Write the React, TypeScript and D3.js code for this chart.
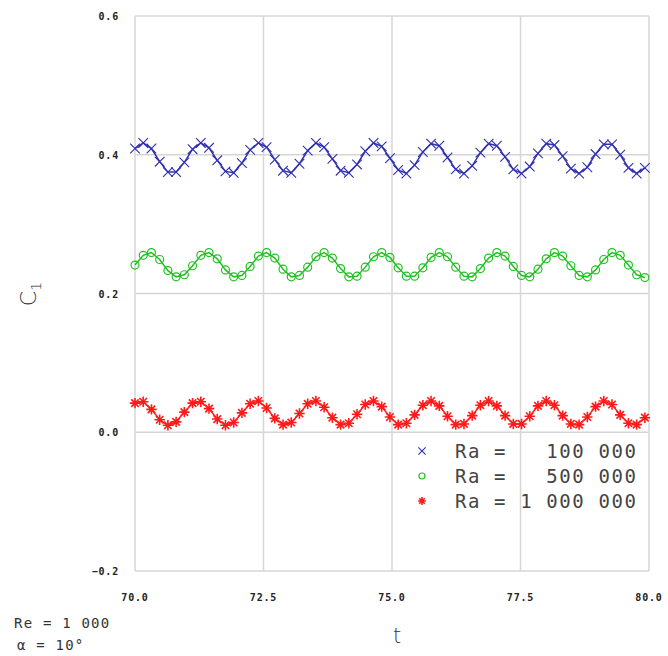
import React from "react";
import * as d3 from "d3";

const times: number[] = Array.from({ length: 63 }, (_, k) => +(70 + 0.16 * k).toFixed(2));

const ra100k: number[] = [
  0.409, 0.417, 0.409, 0.390, 0.375, 0.375, 0.389, 0.408, 0.417, 0.410,
  0.392, 0.376, 0.374, 0.388, 0.407, 0.417, 0.411, 0.393, 0.377, 0.374,
  0.387, 0.406, 0.417, 0.411, 0.394, 0.377, 0.374, 0.386, 0.405, 0.417,
  0.412, 0.395, 0.378, 0.373, 0.385, 0.404, 0.416, 0.413, 0.396, 0.379,
  0.373, 0.384, 0.403, 0.416, 0.413, 0.397, 0.379, 0.373, 0.383, 0.402,
  0.416, 0.414, 0.398, 0.380, 0.373, 0.382, 0.401, 0.415, 0.415, 0.400,
  0.381, 0.373, 0.381,
];

const ra500k: number[] = [
  0.241, 0.255, 0.259, 0.249, 0.233, 0.224, 0.227, 0.240, 0.255, 0.259,
  0.250, 0.234, 0.224, 0.226, 0.239, 0.254, 0.259, 0.251, 0.235, 0.224,
  0.226, 0.238, 0.253, 0.259, 0.251, 0.236, 0.224, 0.225, 0.238, 0.253,
  0.259, 0.252, 0.237, 0.225, 0.225, 0.237, 0.252, 0.259, 0.253, 0.238,
  0.225, 0.224, 0.236, 0.251, 0.259, 0.254, 0.239, 0.226, 0.224, 0.235,
  0.250, 0.259, 0.254, 0.240, 0.226, 0.224, 0.234, 0.249, 0.259, 0.255,
  0.241, 0.227, 0.223,
];

const ra1m: number[] = [
  0.042, 0.044, 0.033, 0.018, 0.010, 0.015, 0.029, 0.042, 0.044, 0.034,
  0.019, 0.010, 0.014, 0.028, 0.041, 0.045, 0.035, 0.020, 0.011, 0.014,
  0.027, 0.041, 0.045, 0.036, 0.021, 0.011, 0.013, 0.026, 0.040, 0.045,
  0.037, 0.022, 0.011, 0.013, 0.025, 0.039, 0.045, 0.038, 0.023, 0.011,
  0.012, 0.024, 0.039, 0.045, 0.038, 0.024, 0.012, 0.012, 0.023, 0.038,
  0.045, 0.039, 0.024, 0.012, 0.011, 0.022, 0.037, 0.045, 0.040, 0.025,
  0.013, 0.011, 0.021,
];

const xTicks: number[] = [70, 72.5, 75, 77.5, 80];
const yTicks: number[] = [-0.2, 0.0, 0.2, 0.4, 0.6];
const legendLabels: string[] = ["Ra =   100 000", "Ra =   500 000", "Ra = 1 000 000"];
const seriesColors: string[] = ["#3030b0", "#22c022", "#ff1a1a"];
const markerTypes: string[] = ["x", "o", "*"];

const W = 668;
const H = 656;
const M = { left: 135, right: 649, top: 16, bottom: 571 };

function Marker({ type, x, y, color, s = 1 }: { type: string; x: number; y: number; color: string; s?: number }) {
  if (type === "x") {
    const r = 4.8 * s;
    return (
      <path
        d={`M${x - r},${y - r}L${x + r},${y + r}M${x - r},${y + r}L${x + r},${y - r}`}
        stroke={color}
        strokeWidth={1.1}
        fill="none"
      />
    );
  }
  if (type === "o") {
    return <circle cx={x} cy={y} r={4 * s} stroke={color} strokeWidth={1.2} fill="none" />;
  }
  const r = 5.2 * s;
  const d2 = r * 0.72;
  return (
    <path
      d={`M${x - r},${y}L${x + r},${y}M${x},${y - r}L${x},${y + r}M${x - d2},${y - d2}L${x + d2},${y + d2}M${x - d2},${y + d2}L${x + d2},${y - d2}`}
      stroke={color}
      strokeWidth={1.6}
      fill="none"
    />
  );
}

export default function App() {
  const x = d3.scaleLinear().domain([70, 80]).range([M.left, M.right]);
  const y = d3.scaleLinear().domain([-0.2, 0.6]).range([M.bottom, M.top]);
  const series = [ra100k, ra500k, ra1m];
  const line = d3
    .line<number>()
    .x((_, i) => x(times[i]))
    .y((d) => y(d));

  const gridColor = "#d6d6d6";
  const tickFont = "'DejaVu Sans Mono', monospace";

  return (
    <div style={{ position: "absolute", left: 0, top: 0 }}>
      <svg width={W} height={H} style={{ display: "block", background: "#fff" }}>
        {xTicks.map((t) => (
          <line key={"gx" + t} x1={x(t)} x2={x(t)} y1={M.top} y2={M.bottom} stroke={gridColor} strokeWidth={1.5} />
        ))}
        {yTicks.map((t) => (
          <line key={"gy" + t} x1={M.left} x2={M.right} y1={y(t)} y2={y(t)} stroke={gridColor} strokeWidth={1.5} />
        ))}
        {xTicks.map((t) => (
          <text
            key={"tx" + t}
            x={x(t)}
            y={M.bottom + 30}
            textAnchor="middle"
            fontFamily={tickFont}
            fontSize={10}
            fontWeight="bold"
            letterSpacing={0.8}
            fill="#222"
          >
            {d3.format(".1f")(t)}
          </text>
        ))}
        {yTicks.map((t) => (
          <text
            key={"ty" + t}
            x={119}
            y={y(t) + 4}
            textAnchor="end"
            fontFamily={tickFont}
            fontSize={10}
            fontWeight="bold"
            letterSpacing={0.8}
            fill="#222"
          >
            {d3.format(".1f")(t)}
          </text>
        ))}
        {series.map((vals, si) => (
          <g key={"s" + si}>
            <path d={line(vals) || ""} stroke={seriesColors[si]} strokeWidth={1.5} fill="none" />
            {vals.map((v, i) => (
              <Marker key={i} type={markerTypes[si]} x={x(times[i])} y={y(v)} color={seriesColors[si]} />
            ))}
          </g>
        ))}
        {legendLabels.map((lab, i) => (
          <g key={"lg" + i}>
            <Marker type={markerTypes[i]} x={422} y={451 + i * 25} color={seriesColors[i]} s={0.75} />
            <text
              x={455}
              y={451 + i * 25 + 7}
              fontFamily={tickFont}
              fontSize={19}
              letterSpacing={1.6}
              fill="#444"
              style={{ whiteSpace: "pre" }}
            >
              {lab}
            </text>
          </g>
        ))}
        <text
          transform={`translate(36,294) rotate(-90)`}
          textAnchor="middle"
          fontFamily="'DejaVu Sans', sans-serif"
          fontSize={22}
          fontWeight={200}
          fill="#333"
        >
          C<tspan fontSize={14} dy={5}>1</tspan>
        </text>
        <text x={397} y={643} textAnchor="middle" fontFamily="'DejaVu Sans', sans-serif" fontSize={21} fontWeight={200} fill="#333">
          t
        </text>
        <text x={14} y={628} fontFamily={tickFont} fontSize={14} letterSpacing={1.2} fill="#333" style={{ whiteSpace: "pre" }}>
          Re = 1 000
        </text>
        <text x={17} y={650} fontFamily={tickFont} fontSize={14} letterSpacing={1.2} fill="#333" style={{ whiteSpace: "pre" }}>
          α = 10°
        </text>
      </svg>
    </div>
  );
}
